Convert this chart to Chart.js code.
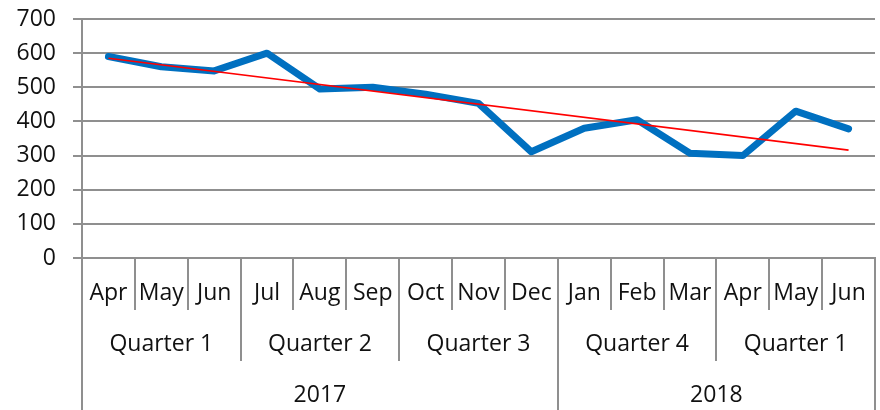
<!DOCTYPE html>
<html>
<head>
<meta charset="utf-8">
<script src="https://cdn.jsdelivr.net/npm/chart.js@4"></script>
<style>
  html, body { margin: 0; padding: 0; background: #fff; }
  #wrap { width: 880px; height: 410px; position: relative; }
</style>
</head>
<body>
<div id="wrap"><canvas id="chart"></canvas></div>
<script>
// ── Data ──────────────────────────────────────────────────────────────────────
const months       = ["Apr", "May", "Jun", "Jul", "Aug", "Sep", "Oct", "Nov", "Dec", "Jan", "Feb", "Mar", "Apr", "May", "Jun"];
const salesValues  = [590, 560, 548, 600, 495, 500, 480, 453, 311, 380, 405, 307, 300, 430, 378];
const trendValues  = [585, null, null, null, null, null, null, null, null, null, null, null, null, null, 316];
const quarterLabels = ["Quarter 1", "Quarter 2", "Quarter 3", "Quarter 4", "Quarter 1"];
const quarterSpans  = [3, 3, 3, 3, 3];
const yearLabels    = ["2017", "2018"];
const yearSpans     = [9, 6];
const yTicks        = [0, 100, 200, 300, 400, 500, 600, 700];

// ── Style ─────────────────────────────────────────────────────────────────────
const GRID  = "#8f8f8f";
const TEXT  = "#111111";
const FONT  = { family: "Open Sans", size: 23 };

// ── Multi-level category rows (quarters, years) ───────────────────────────────
function drawGroupRow(chart, labels, spans, lineBottom, labelY) {
  const { ctx, scales: { x } } = chart;
  const top = chart.chartArea.bottom;
  ctx.save();
  ctx.strokeStyle = GRID;
  ctx.lineWidth = 2;
  ctx.fillStyle = TEXT;
  ctx.font = `${FONT.size}px "${FONT.family}"`;
  ctx.textAlign = "center";
  ctx.textBaseline = "middle";

  let start = 0;
  const edges = [0];
  labels.forEach((lbl, i) => {
    const end = start + spans[i];
    const x0 = x.getPixelForValue(start - 0.5);
    const x1 = x.getPixelForValue(end - 0.5);
    ctx.fillText(lbl, (x0 + x1) / 2, top + labelY);
    edges.push(end);
    start = end;
  });

  edges.forEach((e) => {
    const px = Math.round(x.getPixelForValue(e - 0.5));
    ctx.beginPath();
    ctx.moveTo(px, top);
    ctx.lineTo(px, top + lineBottom);
    ctx.stroke();
  });
  ctx.restore();
}

const groupAxisPlugin = {
  id: "groupAxis",
  afterDraw(chart) {
    drawGroupRow(chart, quarterLabels, quarterSpans, 103, 86);
    drawGroupRow(chart, yearLabels, yearSpans, chart.height - chart.chartArea.bottom, 137);
  },
};

// ── Chart ─────────────────────────────────────────────────────────────────────
new Chart(document.getElementById("chart"), {
  type: "line",
  data: {
    labels: months,
    datasets: [
      {
        label: "Trend",
        data: trendValues,
        borderColor: "#ff0000",
        borderWidth: 1.6,
        pointRadius: 0,
        spanGaps: true,
        order: 0,
      },
      {
        label: "Sales",
        data: salesValues,
        borderColor: "#0070c0",
        borderWidth: 7,
        borderCapStyle: "round",
        borderJoinStyle: "round",
        pointRadius: 0,
        tension: 0,
        order: 1,
      },
    ],
  },
  options: {
    responsive: true,
    maintainAspectRatio: false,
    animation: false,
    layout: { padding: { top: 19, right: 5, left: 0, bottom: 0 } },
    plugins: { legend: { display: false }, tooltip: { enabled: false } },
    scales: {
      x: {
        type: "category",
        offset: true,
        grid: { offset: true, drawOnChartArea: false, drawTicks: true, tickLength: 52, color: GRID, lineWidth: 2 },
        border: { display: true, color: GRID, width: 2 },
        ticks: { font: FONT, color: TEXT, padding: -30, maxRotation: 0, autoSkip: false },
        afterFit: (scale) => { scale.height = 152; },
      },
      y: {
        min: 0,
        max: 700,
        afterBuildTicks: (scale) => { scale.ticks = yTicks.map((v) => ({ value: v })); },
        grid: { color: GRID, lineWidth: 2, tickLength: 9 },
        border: { display: true, color: GRID, width: 2 },
        ticks: { font: FONT, color: TEXT, padding: 17 },
        afterFit: (scale) => {
          scale.width = 82;
          scale.paddingTop = 0;
          scale.paddingBottom = 0;
        },
      },
    },
  },
  plugins: [groupAxisPlugin],
});
</script>
</body>
</html>
